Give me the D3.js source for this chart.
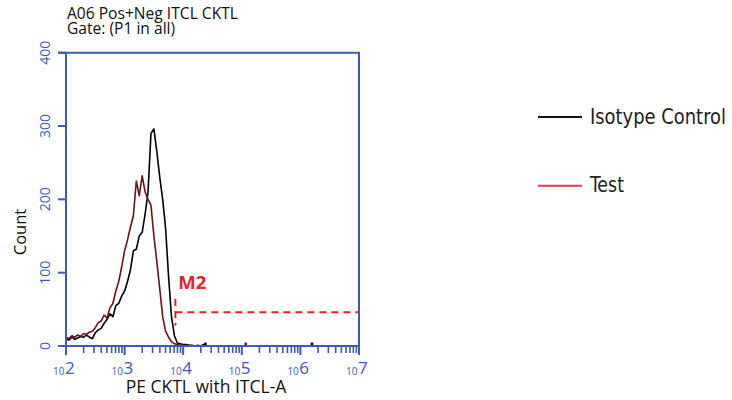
<!DOCTYPE html>
<html><head><meta charset="utf-8">
<script src="https://cdn.jsdelivr.net/npm/d3@7"></script>
<style>body{margin:0;background:#fff}svg{display:block}</style>
</head><body><svg id="c" width="732" height="400"></svg>
<script>
// ---- data ----
const titleLines = ["A06 Pos+Neg ITCL CKTL", "Gate: (P1 in all)"];
const xTitle = "PE CKTL with ITCL-A";
const yTitle = "Count";
const yTicks = [0, 100, 200, 300, 400];
const xDecades = [2, 3, 4, 5, 6, 7];
const binValues = [100,112,126,141,158,178,200,224,251,282,316,355,398,447,501,562,631,708,794,891,
  1000,1122,1259,1413,1585,1778,1995,2239,2512,2818,3162,3548,3981,4467,5012,5623,6310,7079,7943,8913,
  10000,11220,12589,14125,15849,17783,19953,22387,25119];
const isotypeCounts = [10,8,12,9,11,13,12,15,12,10,18,22,24,31,36,44,40,55,58,68,
  75,88,104,130,132,150,155,180,210,290,296,265,230,200,160,95,40,14,4,3,
  2,2,1,1,0,1,0,2,0];
const testCounts = [12,10,14,12,15,13,17,16,19,20,25,32,34,42,38,52,58,75,88,108,
  130,145,162,178,225,205,232,210,200,192,150,115,78,40,20,12,6,3,2,1,
  1,0,1,0,0,0,0,0,0];
const isotypeBlips = [[24000, 3], [1580000, 3]];
const testBlips = [[117000, 3]];
const legendLabels = ["Isotype Control", "Test"];
const markerName = "M2";
const markerStart = 7350, markerEnd = 1e7, markerLevel = 46, markerHalf = 18;

// ---- drawing ----
const svg = d3.select("#c");
const blue = "#3d5ab4";
const L = 66, R = 359, T = 52.7, B = 346;
const x = d3.scaleLog().domain([1e2, 1e7]).range([L, R]);
const y = d3.scaleLinear().domain([0, 400]).range([B, T]);
const font = "'Open Sans', 'Noto Sans', sans-serif";

// title
svg.append("text").attr("x", 67).attr("y", 19)
  .attr("font-family", font).attr("font-size", 15.6).attr("fill", "#111")
  .selectAll("tspan").data(titleLines).join("tspan")
  .attr("x", 67).attr("dy", (d, i) => i ? 15.3 : 0).text(d => d);

// curves
const line = d3.line().x(d => x(d[0])).y(d => y(d[1]));
const isoPts = binValues.map((v, i) => [v, isotypeCounts[i]]);
const testPts = binValues.map((v, i) => [v, testCounts[i]]);
svg.append("path").attr("d", line(isoPts)).attr("fill", "none").attr("stroke", "#000").attr("stroke-width", 1.6).attr("stroke-linejoin", "round");
svg.append("path").attr("d", line(testPts)).attr("fill", "none").attr("stroke", "#6e1216").attr("stroke-width", 1.6).attr("stroke-linejoin", "round");
function blips(arr, col) {
  arr.forEach(b => {
    svg.append("path").attr("d", line([[b[0] * 0.95, b[1]], [b[0] * 1.05, b[1]]]))
      .attr("stroke", col).attr("stroke-width", 2.5).attr("fill", "none");
  });
}
blips(isotypeBlips, "#000");
blips(testBlips, "#6e1216");

// axes / frame
const ax = svg.append("g").attr("stroke", blue).attr("stroke-width", 2).attr("fill", "none");
ax.append("path").attr("d", `M${L},${B}V${T}`);
ax.append("path").attr("d", `M${L - 8},${T}H${R}V${B}`);
ax.append("path").attr("d", `M${L},${B}H${R}`);
// y ticks
ax.selectAll(".yt").data(yTicks).join("line")
  .attr("x1", L - 8).attr("x2", L).attr("y1", d => y(d)).attr("y2", d => y(d));
svg.append("g").selectAll("text").data(yTicks).join("text")
  .attr("transform", d => `translate(50,${y(d)}) rotate(-90)`)
  .attr("text-anchor", "middle").attr("font-family", font).attr("font-size", 14)
  .attr("fill", blue).text(d => d);
// x ticks
const minor = [];
xDecades.slice(0, -1).forEach(e => { for (let m = 2; m <= 9; m++) minor.push(m * Math.pow(10, e)); });
ax.selectAll(".xm").data(minor).join("line")
  .attr("x1", d => x(d)).attr("x2", d => x(d)).attr("y1", B).attr("y2", B + 7).attr("stroke-width", 1.6);
ax.selectAll(".xM").data(xDecades).join("line")
  .attr("x1", d => x(Math.pow(10, d))).attr("x2", d => x(Math.pow(10, d))).attr("y1", B).attr("y2", B + 9);
const xt = svg.append("g").selectAll("text").data(xDecades).join("text")
  .attr("x", d => x(Math.pow(10, d)) - 13).attr("y", 374.5)
  .attr("font-family", font).attr("fill", blue);
xt.append("tspan").attr("font-size", 10).text("10");
xt.append("tspan").attr("font-size", 17).attr("dx", 0.5).attr("dy", -1).text(d => d);

// axis titles
svg.append("text").attr("x", 206).attr("y", 393).attr("text-anchor", "middle")
  .attr("font-family", font).attr("font-size", 17.5).attr("fill", "#111").text(xTitle);
svg.append("text").attr("transform", "translate(25.5,232) rotate(-90)").attr("text-anchor", "middle")
  .attr("font-family", font).attr("font-size", 16.5).attr("fill", "#111").text(yTitle);

// marker M2
const mk = svg.append("g").attr("stroke", "#e3242b").attr("stroke-width", 2).attr("stroke-dasharray", "7,5").attr("fill", "none");
mk.append("path").attr("d", `M${x(markerStart)},${y(markerLevel)}H${x(markerEnd)}`);
mk.append("path").attr("d", `M${x(markerStart)},${y(markerLevel + markerHalf)}V${y(markerLevel - markerHalf)}`);
svg.append("text").attr("x", x(markerStart) + 3).attr("y", 288.5)
  .attr("font-family", font).attr("font-weight", "bold").attr("font-size", 18.5)
  .attr("fill", "#e3242b").text(markerName);

// legend
const legCols = ["#111", "#e0384f"];
const legY = [117, 185.7];
const lg = svg.append("g").selectAll("g").data(legendLabels).join("g");
lg.append("line").attr("x1", 538).attr("x2", 582).attr("y1", (d, i) => legY[i]).attr("y2", (d, i) => legY[i])
  .attr("stroke", (d, i) => legCols[i]).attr("stroke-width", 2);
lg.append("text").attr("x", 590).attr("y", (d, i) => legY[i] + 6.5)
  .attr("font-family", "'Liberation Sans Narrow', 'DejaVu Sans Condensed', sans-serif")
  .attr("font-size", 22).attr("fill", "#222")
  .attr("textLength", (d, i) => [136, 34][i]).attr("lengthAdjust", "spacingAndGlyphs")
  .text(d => d);
</script></body></html>
